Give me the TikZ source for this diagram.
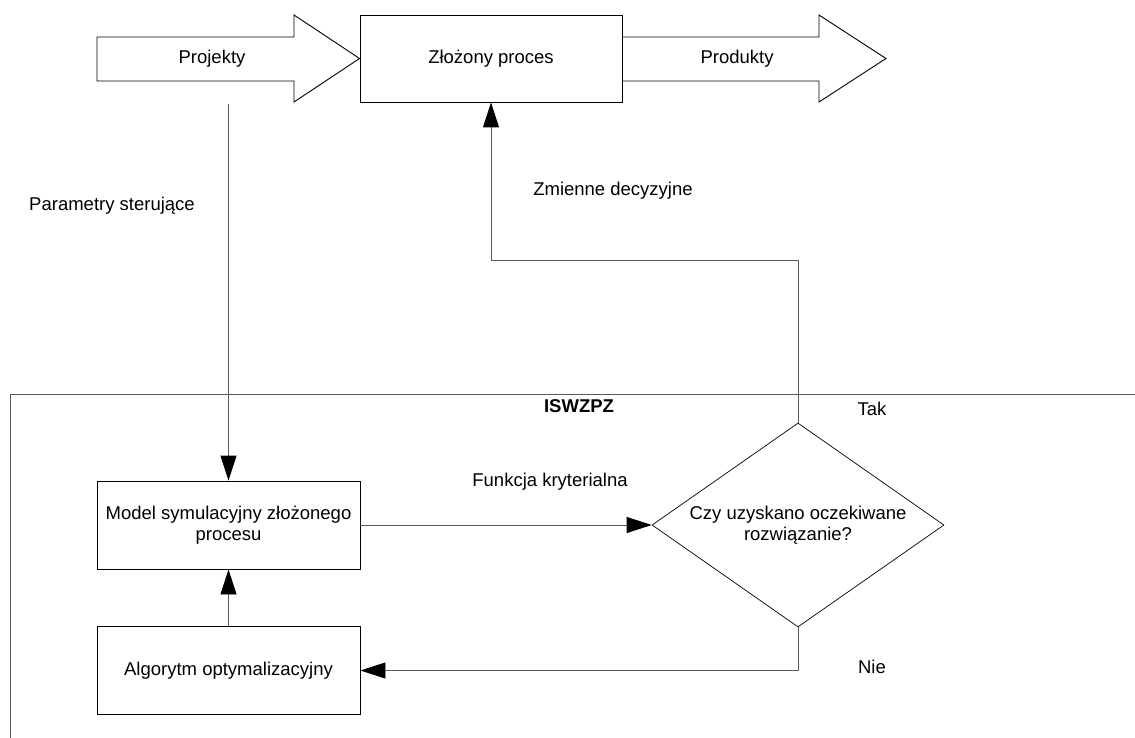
\documentclass[tikz,border=0pt]{standalone}
\usepackage{fontspec}
\setmainfont{Liberation Sans}
\usetikzlibrary{arrows.meta,shapes.geometric}

\tikzset{
  blok/.style={draw, line width=0.9pt, minimum width=263pt, minimum height=88pt,
    align=center, inner sep=0pt},
  decyzja/.style={draw, diamond, line width=0.7pt, minimum width=292pt,
    minimum height=204pt, aspect=1.43, inner sep=0pt, align=center},
  linia/.style={draw=black!65, line width=0.9pt},
  strzalka/.style={linia, -{Triangle[length=25pt,width=16pt,color=black]}},
  opis/.style={inner sep=1pt},
}

\begin{document}
\begin{tikzpicture}[x=1pt,y=-1pt,font=\fontsize{18.5}{21}\selectfont]
  \useasboundingbox (0,0) rectangle (1135,738);

  % gora: proces i strzalki blokowe
  \node[blok, minimum width=262pt, minimum height=87pt] (proces) at (491,58.5) {Złożony proces};
  \draw[line width=0.9pt] (97,37) -- (294,37) -- (294,15) -- (proces.west)
    -- (294,102) -- (294,81) -- (97,81) -- cycle;
  \draw[line width=0.9pt] (proces.east |- 0,37) -- (819,37) -- (819,15) -- (886,58.5)
    -- (819,102) -- (819,81) -- (proces.east |- 0,81);
  \node[opis] (projekty) at (212,59) {Projekty};
  \node[opis] (produkty) at (737,59) {Produkty};

  % system ISWZPZ
  \draw[linia] (10,738) -- (10,394) -- (1135,394);
  \node[opis, font=\fontsize{18.5}{21}\selectfont\bfseries] (iswzpz) at (579,406) {ISWZPZ};

  \node[blok] (model) at (228.5,525) {Model symulacyjny złożonego\\procesu};
  \node[blok] (algorytm) at (228.5,670.5) {Algorytm optymalizacyjny};
  \node[decyzja] (pytanie) at (798,525) {Czy uzyskano oczekiwane\\rozwiązanie?};

  % polaczenia
  \coordinate (parametry) at (228.5,104);
  \draw[strzalka] (parametry) -- (model.north);
  \draw[strzalka] (algorytm.north) -- (model.south);
  \draw[strzalka] (model.east) -- (pytanie.west);
  \draw[strzalka] (pytanie.north) -- ++(0,-162) -| (proces.south);
  \draw[strzalka] (pytanie.south) |- (algorytm.east);

  % etykiety
  \node[opis] (lparametry) at (112,206) {Parametry sterujące};
  \node[opis] (lzmienne) at (613,191) {Zmienne decyzyjne};
  \node[opis] (lfunkcja) at (550,482) {Funkcja kryterialna};
  \node[opis] (ltak) at (872,409) {Tak};
  \node[opis] (lnie) at (872,667) {Nie};
\end{tikzpicture}
\end{document}
